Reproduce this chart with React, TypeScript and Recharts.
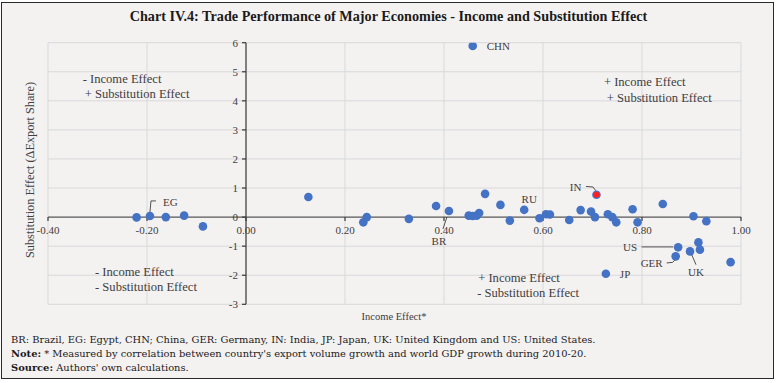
import React from 'react';
import {
  ScatterChart,
  Scatter,
  XAxis,
  YAxis,
  CartesianGrid,
  ReferenceLine,
  ReferenceDot,
} from 'recharts';

// ---------- data ----------
const incomeEffect = [
  -0.221, -0.194, -0.162, -0.125, -0.087, 0.126, 0.237, 0.244, 0.329, 0.384,
  0.41, 0.45, 0.458, 0.466, 0.471, 0.483, 0.514, 0.533, 0.458, 0.562,
  0.593, 0.606, 0.614, 0.653, 0.676, 0.697, 0.705, 0.731, 0.74, 0.748,
  0.781, 0.791, 0.842, 0.904, 0.93, 0.873, 0.914, 0.917, 0.897, 0.868,
  0.979, 0.727,
];
const substitutionEffect = [
  -0.01, 0.04, 0.0, 0.05, -0.32, 0.69, -0.18, 0.0, -0.06, 0.38,
  0.21, 0.05, 0.04, 0.05, 0.14, 0.8, 0.42, -0.12, 5.89, 0.25,
  -0.04, 0.1, 0.09, -0.1, 0.24, 0.19, 0.0, 0.1, 0.0, -0.18,
  0.27, -0.18, 0.45, 0.03, -0.14, -1.04, -0.87, -1.12, -1.18, -1.35,
  -1.55, -1.95,
];
const countryCodes = [
  '', 'EG', '', '', '', '', '', '', '', '',
  'BR', '', '', '', '', '', '', '', 'CHN', 'RU',
  '', '', '', '', '', '', '', '', '', '',
  '', '', '', '', '', 'US', '', '', 'UK', 'GER',
  '', 'JP',
];
const indiaIncome = [0.708];
const indiaSubstitution = [0.77];
const indiaCode = ['IN'];

const xTicks = [-0.4, -0.2, 0.0, 0.2, 0.4, 0.6, 0.8, 1.0];
const yTicks = [-3, -2, -1, 0, 1, 2, 3, 4, 5, 6];

const quadrantNotes = [
  { text: '- Income Effect', x: -0.33, y: 4.75 },
  { text: '+ Substitution Effect', x: -0.326, y: 4.24 },
  { text: '+ Income Effect', x: 0.723, y: 4.64 },
  { text: '+ Substitution Effect', x: 0.729, y: 4.09 },
  { text: '- Income Effect', x: -0.305, y: -1.88 },
  { text: '- Substitution Effect', x: -0.305, y: -2.39 },
  { text: '+ Income Effect', x: 0.469, y: -2.11 },
  { text: '- Substitution Effect', x: 0.467, y: -2.62 },
];

const mainData = incomeEffect.map((x, i) => ({ x, y: substitutionEffect[i], code: countryCodes[i] }));
const indiaData = indiaIncome.map((x, i) => ({ x, y: indiaSubstitution[i], code: indiaCode[i] }));

// ---------- styles ----------
const W = 777;
const H = 383;
const FONT = '"Liberation Serif", serif';
const BLUE = '#4472C4';
const TEXT = '#404040';

type LabelStyle = {
  dx: number;
  dy: number;
  anchor: 'start' | 'middle' | 'end';
  path?: [number, number][];
};
const labelStyles: Record<string, LabelStyle> = {
  EG: { dx: 13, dy: -13.5, anchor: 'start', path: [[0, -4], [1, -15], [6, -15]] },
  BR: { dx: -10, dy: 30, anchor: 'middle', path: [[-2, 6], [-6, 18]] },
  RU: { dx: 5, dy: -11, anchor: 'middle' },
  IN: { dx: -15, dy: -8, anchor: 'end', path: [[-10.5, -8.3], [-3.4, -7.7], [-0.7, -4]] },
  CHN: { dx: 14, dy: 0, anchor: 'start' },
  US: { dx: -41, dy: 0, anchor: 'end', path: [[-36.6, -0.4], [-5, -0.4]] },
  GER: { dx: -13, dy: 6.6, anchor: 'end', path: [[-9, 6.6], [-3, 6], [-1, 4]] },
  UK: { dx: 6, dy: 21, anchor: 'middle', path: [[1.7, 3.3], [6, 13.3]] },
  JP: { dx: 14, dy: 0, anchor: 'start' },
};

const renderLabel = (cx: number, cy: number, code: string) => {
  const s = labelStyles[code];
  if (!s) return null;
  return (
    <g>
      {s.path && (
        <polyline
          points={s.path.map(([a, b]) => `${cx + a},${cy + b}`).join(' ')}
          fill="none"
          stroke="#404040"
          strokeWidth={0.9}
        />
      )}
      <text
        x={cx + s.dx}
        y={cy + s.dy}
        textAnchor={s.anchor}
        dominantBaseline="central"
        fontFamily={FONT}
        fontSize={11}
        fill={TEXT}
      >
        {code}
      </text>
    </g>
  );
};

const MainPoint = (props: any) => {
  const { cx, cy, payload } = props;
  if (cx == null || cy == null) return null;
  return (
    <g>
      <circle cx={cx} cy={cy} r={4.3} fill={BLUE} />
      {payload && payload.code ? renderLabel(cx, cy, payload.code) : null}
    </g>
  );
};

const IndiaPoint = (props: any) => {
  const { cx, cy, payload } = props;
  if (cx == null || cy == null) return null;
  return (
    <g>
      <circle cx={cx} cy={cy} r={4.3} fill={BLUE} />
      <circle cx={cx} cy={cy} r={3} fill="#FF1F1F" />
      {payload && payload.code ? renderLabel(cx, cy, payload.code) : null}
    </g>
  );
};

const fmtX = (v: number) => v.toFixed(2);

export default function App() {
  return (
    <div style={{ position: 'absolute', left: 0, top: 0, width: W, height: H, background: '#ffffff' }}>
      <div
        style={{
          position: 'absolute',
          left: 1,
          top: 2,
          width: 771,
          height: 375,
          border: '1.6px solid #2a2a2a',
          background: '#F4F1F1',
        }}
      />
      <div
        style={{
          position: 'absolute',
          left: 0,
          top: 8,
          width: W,
          textAlign: 'center',
          fontFamily: FONT,
          fontWeight: 'bold',
          fontSize: 14.2,
          lineHeight: '17px',
          color: '#1a1a1a',
        }}
      >
        Chart IV.4: Trade Performance of Major Economies - Income and Substitution Effect
      </div>
      <div style={{ position: 'absolute', left: 0, top: 0 }}>
        <ScatterChart width={W} height={H} margin={{ top: 42.7, right: 36, bottom: 78.7, left: 48 }}>
          <XAxis type="number" dataKey="x" domain={[-0.4, 1]} ticks={xTicks} hide allowDataOverflow />
          <YAxis type="number" dataKey="y" domain={[-3, 6]} ticks={yTicks} hide allowDataOverflow />
          <CartesianGrid
            stroke="#d9d9d9"
            strokeWidth={1}
            verticalValues={xTicks}
            horizontalValues={yTicks}
          />
          <ReferenceLine y={0} stroke="#5e5e5e" strokeWidth={1.4} />
          <ReferenceLine x={0} stroke="#4a4a4a" strokeWidth={1.3} />
          {xTicks.map((v) => (
            <ReferenceDot
              key={'xt' + v}
              x={v}
              y={0}
              r={1}
              shape={(p: any) => (
                <g>
                  <line x1={p.cx} y1={p.cy} x2={p.cx} y2={p.cy + 4} stroke="#3a3a3a" strokeWidth={1.2} />
                  <text
                    x={p.cx}
                    y={p.cy + 13}
                    textAnchor="middle"
                    dominantBaseline="central"
                    fontFamily={FONT}
                    fontSize={11}
                    fill={TEXT}
                  >
                    {fmtX(v)}
                  </text>
                </g>
              )}
            />
          ))}
          {yTicks.map((v) => (
            <ReferenceDot
              key={'yt' + v}
              x={0}
              y={v}
              r={1}
              shape={(p: any) => (
                <g>
                  <line x1={p.cx - 4} y1={p.cy} x2={p.cx} y2={p.cy} stroke="#3a3a3a" strokeWidth={1.2} />
                  <text
                    x={p.cx - 8}
                    y={p.cy}
                    textAnchor="end"
                    dominantBaseline="central"
                    fontFamily={FONT}
                    fontSize={11}
                    fill={TEXT}
                  >
                    {v}
                  </text>
                </g>
              )}
            />
          ))}
          {quadrantNotes.map((n, i) => (
            <ReferenceDot
              key={'q' + i}
              x={n.x}
              y={n.y}
              r={1}
              shape={(p: any) => (
                <text
                  x={p.cx}
                  y={p.cy}
                  textAnchor="start"
                  dominantBaseline="central"
                  fontFamily={FONT}
                  fontSize={12.6}
                  fill={TEXT}
                >
                  {n.text}
                </text>
              )}
            />
          ))}
          <Scatter data={mainData} shape={MainPoint} isAnimationActive={false} />
          <Scatter data={indiaData} shape={IndiaPoint} isAnimationActive={false} />
        </ScatterChart>
      </div>
      <svg width={W} height={H} style={{ position: 'absolute', left: 0, top: 0, pointerEvents: 'none' }}>
        <text
          x={30}
          y={170}
          transform="rotate(-90 30 170)"
          textAnchor="middle"
          dominantBaseline="central"
          fontFamily={FONT}
          fontSize={12.3}
          fill={TEXT}
        >
          Substitution Effect (ΔExport Share)
        </text>
        <text
          x={394}
          y={316}
          textAnchor="middle"
          dominantBaseline="central"
          fontFamily={FONT}
          fontSize={10.5}
          fill={TEXT}
        >
          Income Effect*
        </text>
      </svg>
      <div
        style={{
          position: 'absolute',
          left: 11,
          top: 333,
          fontFamily: '"DejaVu Serif", serif',
          fontSize: 9.9,
          lineHeight: '14px',
          color: '#1a1a1a',
          whiteSpace: 'nowrap',
        }}
      >
        <div>BR: Brazil, EG: Egypt, CHN; China, GER: Germany, IN: India, JP: Japan, UK: United Kingdom and US: United States.</div>
        <div>
          <b>Note:</b> * Measured by correlation between country's export volume growth and world GDP growth during 2010-20.
        </div>
        <div>
          <b>Source:</b> Authors' own calculations.
        </div>
      </div>
    </div>
  );
}
